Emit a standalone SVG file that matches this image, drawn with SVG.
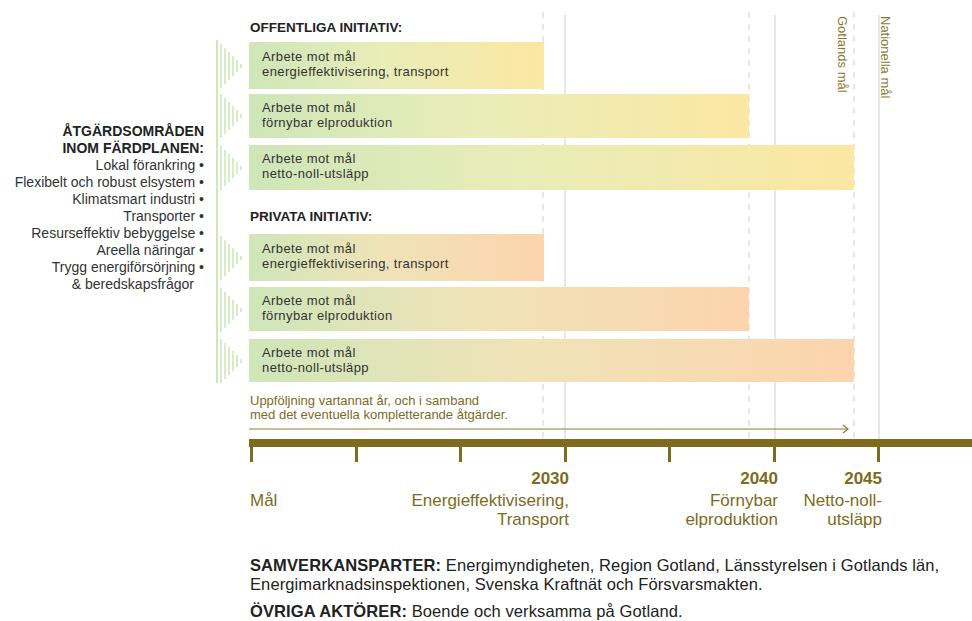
<svg xmlns="http://www.w3.org/2000/svg" width="972" height="621" viewBox="0 0 972 621">
<defs>
<linearGradient id="gPub" x1="0" y1="0" x2="1" y2="0">
<stop offset="0" stop-color="#cfe6b9"/>
<stop offset="0.45" stop-color="#e9edb8"/>
<stop offset="1" stop-color="#fce7a3"/>
</linearGradient>
<linearGradient id="gPriv" x1="0" y1="0" x2="1" y2="0">
<stop offset="0" stop-color="#cfe6b9"/>
<stop offset="0.45" stop-color="#f0e3b8"/>
<stop offset="1" stop-color="#fcd4ad"/>
</linearGradient>
<marker id="arr" markerWidth="10" markerHeight="10" refX="8" refY="5" orient="auto" markerUnits="userSpaceOnUse">
<path d="M3,1 L8,5 L3,9" fill="none" stroke="#8a7a32" stroke-width="1.2"/>
</marker>
<g id="chev" stroke="#cde8b8" stroke-width="1.6">
<line x1="221" y1="-22" x2="221" y2="22"/>
<line x1="225" y1="-18" x2="225" y2="18"/>
<line x1="229" y1="-14" x2="229" y2="14"/>
<line x1="233" y1="-10" x2="233" y2="10"/>
<line x1="237" y1="-6" x2="237" y2="6"/>
<line x1="241" y1="-2" x2="241" y2="2"/>
</g>
</defs>
<style>
text{font-family:"Liberation Sans",Arial,sans-serif}
.bar text{font-size:13px;fill:#333;letter-spacing:0.4px}
.hdr{font-size:13.5px;font-weight:bold;fill:#222}
.left{font-size:14px;fill:#333;text-anchor:end}
.leftb{font-size:14px;font-weight:bold;fill:#222;text-anchor:end}
.ol{fill:#7d6b1e}
.yr{font-size:17px;font-weight:bold;text-anchor:end}
.lab{font-size:17px;text-anchor:end}
.vert{font-size:13px;fill:#8a7a32}
.foot{font-size:16.5px;fill:#222;letter-spacing:0.1px}
.grid{stroke:#cfcfcf;stroke-width:1}
.dash{stroke:#cfcfcf;stroke-width:1;stroke-dasharray:6 6}
</style>
<rect width="972" height="621" fill="#fff"/>

<g id="gridlines">
<line class="dash" x1="543" y1="12" x2="543" y2="438"/>
<line class="dash" x1="749" y1="12" x2="749" y2="438"/>
<line class="dash" x1="854" y1="12" x2="854" y2="438"/>
<line class="grid" x1="565" y1="15" x2="565" y2="440"/>
<line class="grid" x1="775" y1="15" x2="775" y2="440"/>
<line class="grid" x1="879" y1="15" x2="879" y2="440"/>
</g>

<g id="verticalLabels">
<text class="vert" transform="translate(838,16) rotate(90)">Gotlands mål</text>
<text class="vert" transform="translate(881,16) rotate(90)">Nationella mål</text>
</g>

<g id="stripes">
<line x1="217" y1="40" x2="217" y2="383" stroke="#cde8b8" stroke-width="2"/>
<use href="#chev" y="66"/>
<use href="#chev" y="116"/>
<use href="#chev" y="168"/>
<use href="#chev" y="258"/>
<use href="#chev" y="310"/>
<use href="#chev" y="361"/>
</g>

<g id="areas">
<text class="leftb" x="204" y="136">ÅTGÄRDSOMRÅDEN</text>
<text class="leftb" x="204" y="153">INOM FÄRDPLANEN:</text>
<text class="left" x="204" y="170">Lokal förankring •</text>
<text class="left" x="204" y="187">Flexibelt och robust elsystem •</text>
<text class="left" x="204" y="204">Klimatsmart industri •</text>
<text class="left" x="204" y="221">Transporter •</text>
<text class="left" x="204" y="238">Resurseffektiv bebyggelse •</text>
<text class="left" x="204" y="255">Areella näringar •</text>
<text class="left" x="204" y="272">Trygg energiförsörjning •</text>
<text class="left" x="194" y="289">&amp; beredskapsfrågor</text>
</g>

<text class="hdr" x="250" y="32">OFFENTLIGA INITIATIV:</text>
<text class="hdr" x="250" y="221">PRIVATA INITIATIV:</text>

<g id="pub1" class="bar"><rect x="249" y="42" width="295" height="47" fill="url(#gPub)"/><text x="262" y="61">Arbete mot mål</text><text x="262" y="76">energieffektivisering, transport</text></g>
<g id="pub2" class="bar"><rect x="249" y="94" width="500" height="44" fill="url(#gPub)"/><text x="262" y="112">Arbete mot mål</text><text x="262" y="127">förnybar elproduktion</text></g>
<g id="pub3" class="bar"><rect x="249" y="145" width="605" height="45" fill="url(#gPub)"/><text x="262" y="163">Arbete mot mål</text><text x="262" y="178">netto-noll-utsläpp</text></g>
<g id="priv1" class="bar"><rect x="249" y="234" width="295" height="47" fill="url(#gPriv)"/><text x="262" y="253">Arbete mot mål</text><text x="262" y="268">energieffektivisering, transport</text></g>
<g id="priv2" class="bar"><rect x="249" y="287" width="500" height="44" fill="url(#gPriv)"/><text x="262" y="305">Arbete mot mål</text><text x="262" y="320">förnybar elproduktion</text></g>
<g id="priv3" class="bar"><rect x="249" y="339" width="605" height="43" fill="url(#gPriv)"/><text x="262" y="357">Arbete mot mål</text><text x="262" y="372">netto-noll-utsläpp</text></g>

<g id="followup">
<text class="ol" x="250" y="405" font-size="13">Uppföljning vartannat år, och i samband</text>
<text class="ol" x="250" y="419" font-size="13">med det eventuella kompletterande åtgärder.</text>
</g>

<g id="connectors">
<line x1="249" y1="429" x2="848" y2="429" stroke="#8a7a32" stroke-width="1.2" marker-end="url(#arr)"/>
</g>

<g id="timeline" fill="#7d6b1e">
<rect x="249" y="439" width="723" height="8"/>
<rect x="250" y="446" width="3" height="16"/>
<rect x="355" y="446" width="3" height="16"/>
<rect x="459" y="446" width="3" height="16"/>
<rect x="564" y="446" width="3" height="16"/>
<rect x="668" y="446" width="3" height="16"/>
<rect x="773" y="446" width="3" height="16"/>
<rect x="877" y="446" width="3" height="16"/>
</g>

<g id="labels">
<text class="yr ol" x="569" y="484">2030</text>
<text class="yr ol" x="778" y="484">2040</text>
<text class="yr ol" x="882" y="484">2045</text>
<text class="ol" x="250" y="506" font-size="17">Mål</text>
<text class="lab ol" x="569" y="506">Energieffektivisering,</text>
<text class="lab ol" x="569" y="525">Transport</text>
<text class="lab ol" x="778" y="506">Förnybar</text>
<text class="lab ol" x="778" y="525">elproduktion</text>
<text class="lab ol" x="882" y="506">Netto-noll-</text>
<text class="lab ol" x="882" y="525">utsläpp</text>
</g>

<g id="footer">
<text class="foot" x="250" y="571"><tspan font-weight="bold">SAMVERKANSPARTER:</tspan> Energimyndigheten, Region Gotland, Länsstyrelsen i Gotlands län,</text>
<text class="foot" x="250" y="590">Energimarknadsinspektionen, Svenska Kraftnät och Försvarsmakten.</text>
<text class="foot" x="250" y="617"><tspan font-weight="bold">ÖVRIGA AKTÖRER:</tspan> Boende och verksamma på Gotland.</text>
</g>
</svg>
